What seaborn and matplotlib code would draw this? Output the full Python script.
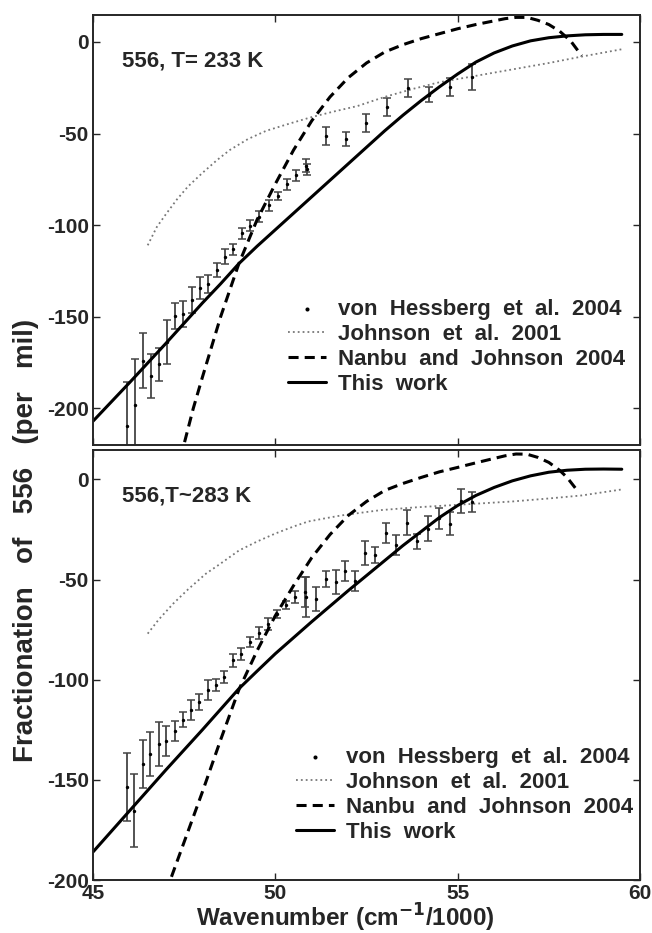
import matplotlib
matplotlib.use("Agg")
import matplotlib.pyplot as plt
import seaborn as sns
import numpy as np

# von Hessberg et al. 2004, T = 233 K
hx_233 = [45.94, 46.15, 46.36, 46.59, 46.81, 47.02, 47.25, 47.48, 47.71, 47.94, 48.15, 48.40,
          48.63, 48.85, 49.09, 49.31, 49.56, 49.82, 50.06, 50.32, 50.57, 50.83, 50.87, 51.40,
          51.93, 52.48, 53.05, 53.64, 54.21, 54.79, 55.40]
hy_233 = [-209.4, -198, -174, -182.6, -175.9, -163.6, -149.6, -148.6, -140.8, -134.5, -132.3, -124.5,
          -117.2, -113.2, -104.5, -100.3, -95.4, -89.1, -84.1, -77.8, -72.7, -67.6, -69.5, -51.4,
          -53.1, -44.1, -35.4, -25.1, -28.7, -24.5, -19.1]
he_233 = [24, 25, 15, 12, 9, 12, 7, 7, 7.3, 6, 5, 4,
          4, 3, 3, 3, 3, 3, 2, 3, 3, 3.5, 3, 5,
          3.7, 5, 5, 5, 4, 5, 7]

# von Hessberg et al. 2004, T ~ 283 K
hx_283 = [45.93, 46.13, 46.36, 46.57, 46.80, 47.01, 47.24, 47.46, 47.68, 47.91, 48.14, 48.37,
          48.60, 48.83, 49.06, 49.31, 49.56, 49.80, 50.04, 50.30, 50.55, 50.80, 50.84, 51.12,
          51.39, 51.65, 51.92, 52.18, 52.45, 52.72, 53.03, 53.31, 53.60, 53.89, 54.19, 54.49,
          54.78, 55.08, 55.38]
hy_283 = [-153.7, -165.3, -142, -137.3, -132, -130.4, -125.4, -120, -114.9, -111.2, -105, -102.4,
          -98.4, -90.4, -87.4, -81.2, -76.7, -72.4, -67, -62.9, -58.7, -56.2, -58.7, -59.9,
          -49.5, -51.2, -45.7, -50.7, -36.7, -37.5, -26.7, -32.9, -21.5, -30.9, -24.5, -19.5,
          -22, -10.9, -11.5]
he_283 = [17, 18, 12, 11, 11, 7.5, 5, 3.7, 5, 4, 5, 3,
          3, 3, 3, 2.7, 3, 3, 2, 2, 3, 7.5, 10, 6,
          4, 6, 5, 5, 6, 4, 5, 5, 6, 3.7, 6, 5,
          5.5, 6, 5]

# This work
sol_x_233 = [45, 46, 47, 48, 48.5, 49, 49.5, 50, 51, 52, 52.5, 53, 53.5, 54, 54.5, 55, 55.5,
             56, 56.5, 57, 57.5, 58, 58.5, 59, 59.5]
sol_y_233 = [-207, -186, -164.5, -142.5, -132, -121, -111.5, -102.5, -84.5, -66.5, -57.5, -48.5,
             -40, -32, -24.5, -17.5, -11, -6, -2.2, 0.6, 2.3, 3.3, 3.9, 4.1, 4.1]
sol_x_283 = [45, 46, 47, 48, 49, 49.5, 50, 51, 52, 52.5, 53, 53.5, 54, 54.5, 55, 55.5,
             56, 56.5, 57, 57.5, 58, 58.5, 59, 59.5]
sol_y_283 = [-186, -165.5, -145, -125, -104.5, -95.7, -87, -71, -55.5, -48, -40.5, -33, -26,
             -19, -13, -8, -4, -0.7, 1.8, 3.6, 4.6, 5.1, 5.2, 5.1]

# Johnson et al. 2001
dot_x_233 = [46.5, 46.75, 47.0, 47.3, 47.6, 48.0, 48.4, 48.75, 49.25, 49.75, 50.4, 51.0, 51.6,
             52.25, 53.0, 53.8, 54.5, 55.5, 56.5, 57.5, 58.4, 59.5]
dot_y_233 = [-111, -101, -94, -86, -79, -71.5, -64.5, -59, -53, -48.5, -44.5, -41, -38,
             -35, -30, -25.5, -22, -18.5, -15, -11.5, -8, -4]
dot_x_283 = [46.5, 46.8, 47.2, 47.6, 48.1, 48.5, 49.0, 49.5, 50.0, 50.5, 50.9, 51.4, 51.8,
             52.4, 52.9, 53.8, 54.7, 55.6, 56.5, 57.5, 58.4, 59.5]
dot_y_283 = [-77, -70, -62, -55, -47, -42, -35.5, -31, -27, -23.5, -21, -19.3, -18,
             -16.5, -15.3, -14, -13, -12, -11, -9.5, -8, -5]

# Nanbu and Johnson 2004
dash_x_233 = [47.4, 47.75, 48.0, 48.5, 49.0, 49.5, 50.0, 50.5, 51.0, 51.5, 52.0, 52.5, 53.0,
              53.5, 54.0, 54.5, 55.0, 55.5, 56.0, 56.3, 56.6, 56.9, 57.2, 57.5, 57.8, 58.1, 58.4]
dash_y_233 = [-227, -200, -183, -150, -121, -97, -77.5, -59, -43, -30, -19.5, -11.5, -5.5,
              -1.5, 1.8, 4.5, 7.2, 9.5, 11.5, 12.7, 13.4, 13.4, 11.8, 9.5, 5.8, 0.5, -7.5]
dash_x_283 = [47.0, 47.5, 48.0, 48.5, 49.0, 49.5, 50.0, 50.5, 51.0, 51.5, 52.0, 52.5, 53.0,
              53.5, 54.0, 54.5, 55.0, 55.5, 56.0, 56.3, 56.6, 56.9, 57.2, 57.5, 57.8, 58.0, 58.3]
dash_y_283 = [-206, -181, -156, -130, -105, -85.5, -68, -53, -39, -27.5, -18, -11, -5.5,
              -2, 1, 3.8, 6, 8.3, 10.5, 11.8, 12.7, 12.6, 11, 8.5, 4.5, 1, -6]

legend_labels = ["von  Hessberg  et  al.  2004", "Johnson  et  al.  2001",
                 "Nanbu  and  Johnson  2004", "This  work"]

sns.set_style("ticks")
plt.rcParams['font.family'] = ['Liberation Sans', 'DejaVu Sans']
plt.rcParams['font.weight'] = 'bold'
plt.rcParams['axes.unicode_minus'] = False

fig = plt.figure(figsize=(6.52, 9.33), dpi=100)
W, H = 652.0, 933.0
ax1 = fig.add_axes([93 / W, 1 - 445 / H, 547 / W, 430 / H])
ax2 = fig.add_axes([93 / W, 1 - 880 / H, 547 / W, 430 / H])


def draw_panel(ax, hx, hy, he, dx, dy, ddx, ddy, sx, sy, title, ylim, leg_anchor):
    ax.errorbar(hx, hy, yerr=he, fmt='none', ecolor='#444444', elinewidth=1.3,
                capsize=3, capthick=1.1, zorder=2)
    sns.scatterplot(x=hx, y=hy, ax=ax, color='black', s=6, marker='o', linewidth=0,
                    label=legend_labels[0], zorder=3)
    sns.lineplot(x=dx, y=dy, ax=ax, color='#777777', linewidth=1.3,
                 linestyle=(0, (1, 1.7)), label=legend_labels[1])
    sns.lineplot(x=ddx, y=ddy, ax=ax, color='black', linewidth=2.2,
                 linestyle=(0, (3.3, 2.0)), label=legend_labels[2])
    sns.lineplot(x=sx, y=sy, ax=ax, color='black', linewidth=2.2,
                 label=legend_labels[3])
    ax.set_xlim(45, 60)
    ax.set_ylim(*ylim)
    ax.set_yticks([0, -50, -100, -150, -200])
    ax.set_xticks([45, 50, 55, 60])
    ax.tick_params(direction='in', top=True, right=True, length=5, width=1,
                   labelsize=15, pad=3)
    for sp in ax.spines.values():
        sp.set_linewidth(1.4)
    ax.set_xlabel('')
    ax.set_ylabel('')
    ax.text(0.053, 0.892, title, transform=ax.transAxes, fontsize=16,
            fontweight='bold', va='center', ha='left')
    ax.legend(loc='upper left', bbox_to_anchor=leg_anchor, frameon=False,
              fontsize=16, handlelength=1.7, handletextpad=0.55, labelspacing=0.18,
              borderpad=0, borderaxespad=0, markerscale=1.2)


draw_panel(ax1, hx_233, hy_233, he_233, dot_x_233, dot_y_233, dash_x_233, dash_y_233,
           sol_x_233, sol_y_233, '556, T= 233 K', (-220, 14.7), (0.3565, 0.34))
draw_panel(ax2, hx_283, hy_283, he_283, dot_x_283, dot_y_283, dash_x_283, dash_y_283,
           sol_x_283, sol_y_283, '556,T~283 K', (-200, 14.7), (0.372, 0.31))

ax1.tick_params(labelbottom=False)
ax2.set_xlabel('Wavenumber (cm$^{\\mathbf{-1}}$/1000)', fontsize=17.5, fontweight='bold')
ax2.xaxis.set_label_coords(0.461, -0.050)
fig.text(26 / W, 1 - 540 / H, 'Fractionation   of   556   (per   mil)', rotation=90,
         fontsize=20, fontweight='bold', ha='center', va='center')

fig.savefig('out.png', dpi=100)
